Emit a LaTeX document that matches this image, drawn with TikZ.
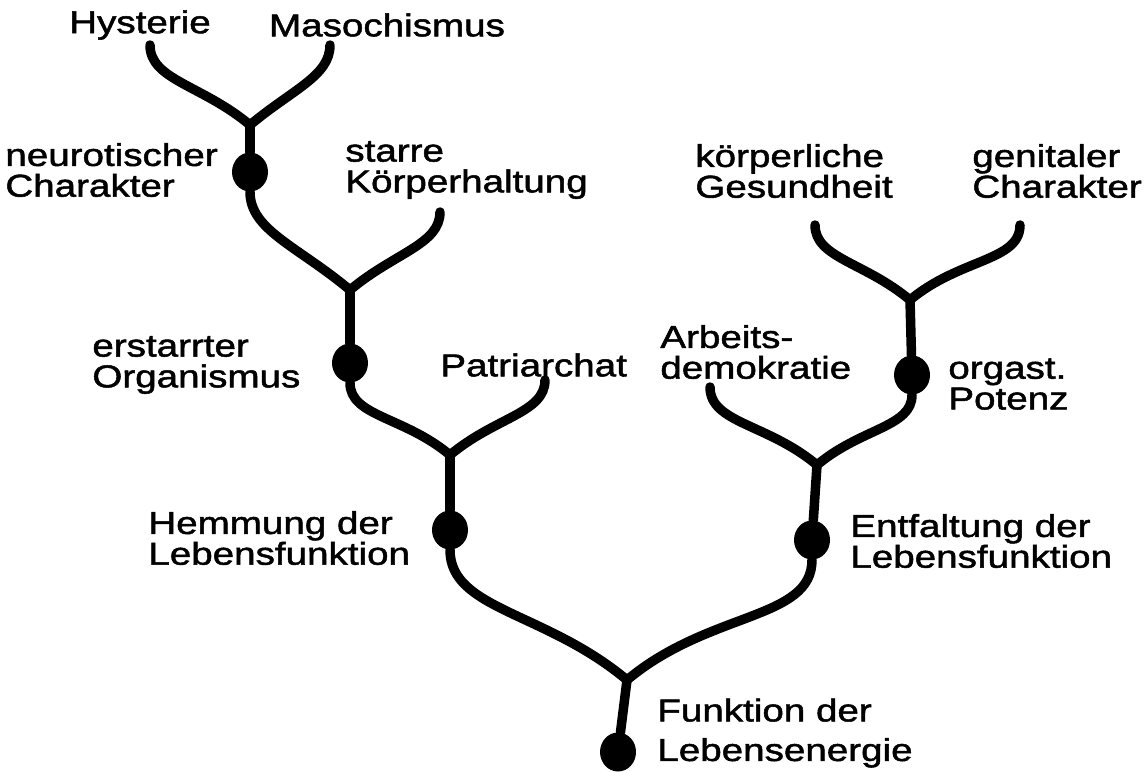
\documentclass[tikz,border=0pt]{standalone}
\usepackage{fontspec}
\setmainfont[FakeStretch=1.22,FakeBold=1.6]{Liberation Sans}
\usetikzlibrary{shapes.geometric}
\begin{document}
\begin{tikzpicture}[x=0.02cm,y=-0.02cm,
  branch/.style={line width=5.4pt,line cap=round},
  lefty/.style={out=140,in=-90,out looseness=1.25,in looseness=0.7},
  righty/.style={out=40,in=-90,out looseness=1.25,in looseness=0.7},
  knot/.style={ellipse,fill=black,inner sep=0pt,minimum width=0.72cm,minimum height=0.78cm},
  lbl/.style={align=left,inner sep=0pt,anchor=west,font=\fontsize{18}{17.5}\selectfont}]
\useasboundingbox (0,0) rectangle (1145,771);

% junctions and free branch ends
\coordinate (j1) at (250,125);
\coordinate (j2) at (350,290);
\coordinate (j3) at (450,455);
\coordinate (j4) at (627,680);
\coordinate (j5) at (817,465);
\coordinate (j6) at (910,300);
\coordinate (tHys) at (150,45);
\coordinate (tMas) at (330,45);
\coordinate (tKoe) at (440,212);
\coordinate (tPat) at (545,380);
\coordinate (tArb) at (710,387);
\coordinate (tGes) at (815,225);
\coordinate (tGen) at (1020,225);

% knots
\node[knot] (d1) at (250,172) {};
\node[knot] (d2) at (350,363) {};
\node[knot] (d3) at (450,530) {};
\node[knot] (d4) at (912,375) {};
\node[knot] (d5) at (812,540) {};
\node[knot] (d6) at (618,752) {};

% branches
\draw[branch] (j1) to[lefty] (tHys);
\draw[branch] (j1) to[righty] (tMas);
\draw[branch] (j1) -- (d1);
\draw[branch] (j2) to[lefty] (d1);
\draw[branch] (j2) to[righty] (tKoe);
\draw[branch] (j2) -- (d2);
\draw[branch] (j3) to[lefty] (d2);
\draw[branch] (j3) to[righty] (tPat);
\draw[branch] (j3) -- (d3);
\draw[branch] (j4) to[lefty] (d3);
\draw[branch] (j4) to[righty] (d5);
\draw[branch] (j4) -- (d6);
\draw[branch] (j5) to[lefty] (tArb);
\draw[branch] (j5) to[righty] (d4);
\draw[branch] (j5) -- (d5);
\draw[branch] (j6) to[lefty] (tGes);
\draw[branch] (j6) to[righty] (tGen);
\draw[branch] (j6) -- (d4);

% labels
\node[lbl,anchor=center] (lHys) at (140,25) {Hysterie};
\node[lbl,anchor=center] (lMas) at (387,25) {Masochismus};
\node[lbl] (lNeu) at (5,170) {neurotischer\\Charakter};
\node[lbl] (lSta) at (345,170) {starre\\Körperhaltung};
\node[lbl] (lErs) at (92,365) {erstarrter\\Organismus};
\node[lbl] (lPat) at (440,365) {Patriarchat};
\node[lbl] (lHem) at (148,538) {Hemmung der\\Lebensfunktion};
\node[lbl,font=\fontsize{18}{22.5}\selectfont] (lFun) at (657,733) {Funktion der\\Lebensenergie};
\node[lbl] (lEnt) at (850,541) {Entfaltung der\\Lebensfunktion};
\node[lbl] (lArb) at (660,352) {Arbeits-\\demokratie};
\node[lbl] (lOrg) at (948,384) {orgast.\\Potenz};
\node[lbl] (lKoe) at (695,171) {körperliche\\Gesundheit};
\node[lbl] (lGen) at (972,171) {genitaler\\Charakter};
\end{tikzpicture}
\end{document}
